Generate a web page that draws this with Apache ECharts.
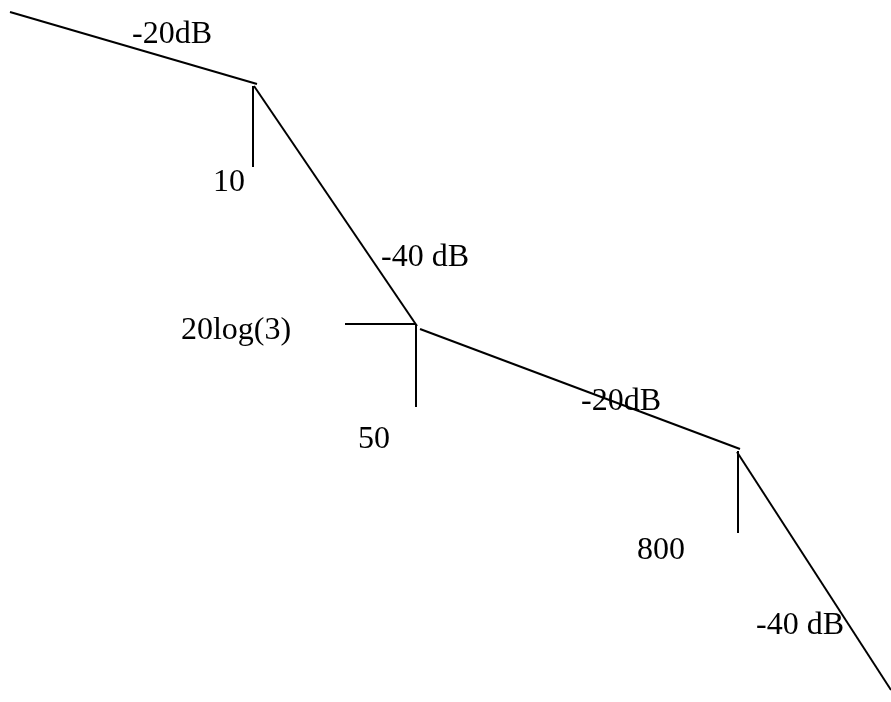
<!DOCTYPE html>
<html>
<head>
<meta charset="utf-8">
<script src="https://cdn.jsdelivr.net/npm/echarts@6/dist/echarts.min.js"></script>
<style>
html,body{margin:0;padding:0;background:#fff;}
#chart{width:891px;height:702px;}
</style>
</head>
<body>
<div id="chart"></div>
<script>
// Asymptotic Bode magnitude sketch (sketch units: x = log-frequency position, y = depth below top)
const asymptoteSegments = [
  [[10, 12], [257, 84]],    // -20 dB/dec
  [[254, 86], [417, 326]],  // -40 dB/dec
  [[420, 329], [740, 449]], // -20 dB/dec
  [[737, 452], [891, 690]]  // -40 dB/dec
];
const markerSegments = [
  [[253, 86], [253, 167]],   // break at 10
  [[416, 325], [416, 407]],  // break at 50
  [[345, 324], [416, 324]],  // level 20log(3)
  [[738, 451], [738, 533]]   // break at 800
];
const slopeLabels = ['-20dB', '-40 dB', '-20dB', '-40 dB'];
const slopeLabelPos = [[172, 35], [425, 258], [621, 402], [800, 626]];
const breakLabels = ['10', '50', '800', '20log(3)'];
const breakLabelPos = [[229, 183], [374, 440], [661, 551], [236, 331]];

const labelData = slopeLabels.map((t, i) => ({ value: slopeLabelPos[i], name: t }))
  .concat(breakLabels.map((t, i) => ({ value: breakLabelPos[i], name: t })));

const chart = echarts.init(document.getElementById('chart'));
chart.setOption({
  animation: false,
  backgroundColor: '#ffffff',
  grid: { left: 0, right: 0, top: 0, bottom: 0 },
  xAxis: { type: 'value', min: 0, max: 891, show: false },
  yAxis: { type: 'value', min: 0, max: 702, inverse: true, show: false },
  series: [
    {
      type: 'lines',
      coordinateSystem: 'cartesian2d',
      lineStyle: { color: '#000', width: 2, opacity: 1 },
      data: asymptoteSegments.map(s => ({ coords: s }))
    },
    {
      type: 'lines',
      coordinateSystem: 'cartesian2d',
      lineStyle: { color: '#000', width: 2, opacity: 1 },
      data: markerSegments.map(s => ({ coords: s }))
    },
    {
      type: 'scatter',
      symbolSize: 1,
      itemStyle: { color: '#ffffff', opacity: 1 },
      emphasis: { disabled: true },
      label: {
        show: true,
        position: 'inside',
        formatter: p => p.name,
        color: '#000000',
        opacity: 1,
        textBorderWidth: 0,
        textBorderColor: 'transparent',
        fontFamily: '"Liberation Serif", "Times New Roman", serif',
        fontSize: 32
      },
      data: labelData
    }
  ]
});
</script>
</body>
</html>
